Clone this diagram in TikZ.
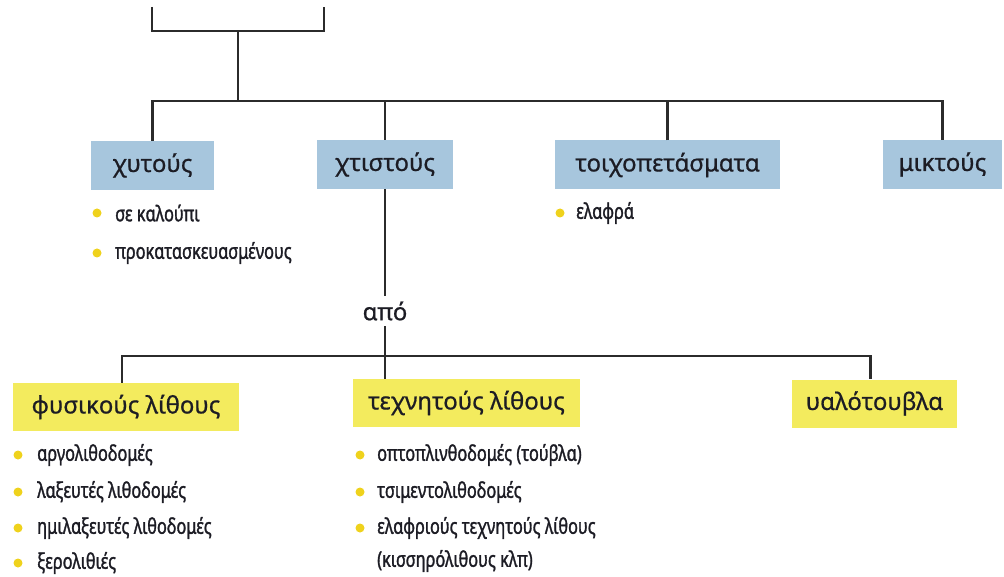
\documentclass[tikz,border=0pt]{standalone}
\usepackage{fontspec}
\setmainfont{Noto Sans}
\newfontfamily\boxfont[FakeBold=0.7]{Noto Sans}
\newfontfamily\narrowfont[FakeStretch=0.76,FakeBold=1.4]{Noto Sans}
\usetikzlibrary{calc}
\definecolor{BoxBlue}{HTML}{A7C6DD}
\definecolor{BoxYellow}{HTML}{F3EB5E}
\definecolor{DotYellow}{HTML}{EFD21C}
\definecolor{LineGrey}{HTML}{2B2B2B}
\definecolor{TextDark}{HTML}{1C1C24}

\begin{document}
\begin{tikzpicture}[x=1pt,y=-1pt,
  bluebox/.style={fill=BoxBlue,inner sep=0pt,minimum height=49pt,text=TextDark,font=\boxfont\fontsize{24}{28}\selectfont},
  yellowbox/.style={fill=BoxYellow,inner sep=0pt,minimum height=48pt,text=TextDark,font=\boxfont\fontsize{24}{28}\selectfont},
  itemtext/.style={anchor=west,inner sep=0pt,text=TextDark,font=\narrowfont\fontsize{21.5}{24}\selectfont},
  wire/.style={draw=LineGrey,line width=2.3pt}]
\useasboundingbox (0,0) rectangle (1004,577);

% top bracket
\coordinate (tl) at (152,7);
\coordinate (tr) at (324,7);
\coordinate (tm) at (238,31);
\coordinate (bus) at (238,101);
\draw[wire] (tl) |- (tm) -| (tr);
\draw[wire] (tm) -- (bus);

% first level
\node[bluebox,minimum width=123pt] (xytous) at (152.5,165.5) {χυτούς};
\node[bluebox,minimum width=136pt] (xtistous) at (385,164.5) {χτιστούς};
\node[bluebox,minimum width=225pt] (toixo) at (667.5,165) {τοιχοπετάσματα};
\node[bluebox,minimum width=119pt] (miktous) at (942.5,164.5) {μικτούς};

\draw[wire] (xytous.north) -- (xytous.north |- bus) -- (miktous.north |- bus) -- (miktous.north);
\draw[wire] (xtistous.north) -- (xtistous.north |- bus);
\draw[wire] (toixo.north) -- (toixo.north |- bus);

\foreach \t/\y [count=\i] in {σε καλούπι/213,προκατασκευασμένους/253}{
  \node[itemtext] (xyt\i) at (115,\y) {\t};
  \fill[DotYellow] (97,\y) circle (4.5);
}
\node[itemtext] (toi1) at (576,213) {ελαφρά};
\fill[DotYellow] (560,213) circle (4.5);

% second level
\node[text=TextDark,inner sep=0pt,minimum height=30pt,font=\boxfont\fontsize{24}{28}\selectfont] (apo) at (385,311) {από};
\coordinate (bus2) at (385,356);
\draw[wire] (xtistous.south) -- (apo.north);
\draw[wire] (apo.south) -- (bus2);

\node[yellowbox,minimum width=226pt] (fysik) at (126,407) {φυσικούς λίθους};
\node[yellowbox,minimum width=227pt] (techn) at (466.5,403) {τεχνητούς λίθους};
\node[yellowbox,minimum width=165pt] (yalo) at (874.5,403.5) {υαλότουβλα};

\draw[wire] ($(fysik.north)+(-4,0)$) |- (bus2) -| ($(yalo.north)+(-4,0)$);
\draw[wire] (bus2) -- (bus2 |- techn.north);

\foreach \t/\y [count=\i] in {αργολιθοδομές/455,λαξευτές λιθοδομές/492,ημιλαξευτές λιθοδομές/528,ξερολιθιές/563}{
  \node[itemtext] (fys\i) at (37,\y) {\t};
  \fill[DotYellow] (18,\y) circle (4.5);
}
\foreach \t/\y [count=\i] in {οπτοπλινθοδομές (τούβλα)/455,τσιμεντολιθοδομές/492,ελαφριούς τεχνητούς λίθους/528}{
  \node[itemtext] (tex\i) at (377,\y) {\t};
  \fill[DotYellow] (360,\y) circle (4.5);
}
\node[itemtext] (tex4) at (377,561) {(κισσηρόλιθους κλπ)};
\end{tikzpicture}
\end{document}
